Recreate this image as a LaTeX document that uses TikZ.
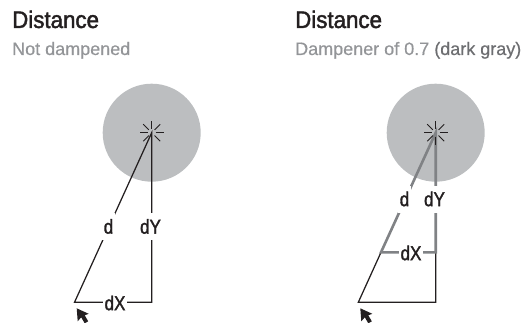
\documentclass[tikz,border=0pt]{standalone}
\usepackage{fontspec}
\setmainfont{Liberation Sans}
\newfontfamily\titlefont[FakeStretch=0.93,FakeBold=1.8]{Liberation Sans}
\newfontfamily\subfont[FakeStretch=1.0,FakeBold=0.5]{Liberation Sans}
\newfontfamily\tagfont[FakeStretch=0.85,FakeBold=1.5]{Liberation Sans}
\usetikzlibrary{positioning,calc}
\definecolor{Ink}{HTML}{231F20}
\definecolor{Muted}{HTML}{939598}
\definecolor{Damp}{HTML}{808285}
\definecolor{DarkText}{HTML}{6D6E71}
\definecolor{Zone}{HTML}{BCBEC0}
\tikzset{
 title/.style={anchor=base west, inner sep=0pt, font=\titlefont\fontsize{24}{26}\selectfont, text=Ink},
 subtitle/.style={anchor=base west, inner sep=0pt, font=\subfont\fontsize{18}{20}\selectfont, text=Muted},
 zone/.style={circle, fill=Zone, minimum size=98pt, inner sep=0pt},
 tag/.style={fill=white, inner xsep=2pt, inner ysep=0pt, minimum height=27pt, font=\tagfont\fontsize{20}{22}\selectfont, text=Ink},
 thinline/.style={draw=Ink, line width=1.25pt},
 dampline/.style={draw=Damp, line width=2.6pt},
 ray/.style={draw=Ink, line width=0.9pt},
 cursor/.style={fill=Ink}
}
\begin{document}
\begin{tikzpicture}[x=1pt,y=-1pt]
\useasboundingbox (0,0) rectangle (524,323);
% left side
\node[title] (titleA) at (12,28) {Distance};
\node[subtitle] (subA) at (12,55) {Not dampened};
\node[zone] (zoneA) at (151.7,132.7) {};
\coordinate (sunA) at (151.7,132.7);
\coordinate (mouseA) at (74.5,302.3);
\coordinate (cornerA) at (151.7,302.3);
\draw[thinline,line join=miter] (sunA) -- (mouseA) -- (cornerA) -- cycle;
\node[tag] (dA) at (108.5,226.5) {d};
\node[tag] (dYA) at (150.5,226.5) {dY};
\node[tag] (dXA) at (115,303) {dX};
\foreach \a in {0,45,...,315}
  \draw[ray] ($(sunA)+(\a:4)$) -- ($(sunA)+(\a:12)$);
\fill[cursor,shift={(76.7,308.3)}] (0,0) -- (1,13) -- (4.5,9) -- (8,15) -- (11.5,13) -- (8,7) -- (12,5.5) -- cycle;
% right side
\node[title] (titleB) at (295,28) {Distance};
\node[subtitle] (subB) at (295,55) {Dampener of 0.7 \textcolor{DarkText}{(dark gray)}};
\node[zone] (zoneB) at (435.7,132.7) {};
\coordinate (sunB) at (435.7,132.7);
\coordinate (mouseB) at (358.3,302.3);
\coordinate (cornerB) at (435.7,302.3);
\coordinate (dampB) at (381,252.3);
\coordinate (dampcornerB) at (435.7,252.3);
\draw[thinline] (dampB) -- (mouseB) -- (cornerB) -- (dampcornerB);
\draw[dampline,line join=miter] (dampB) -- (sunB) -- (dampcornerB) -- cycle;
\node[tag] (dB) at (404.5,199) {d};
\node[tag] (dYB) at (434.5,199) {dY};
\node[tag] (dXB) at (411,253) {dX};
\foreach \a in {0,45,...,315}
  \draw[ray] ($(sunB)+(\a:4)$) -- ($(sunB)+(\a:12)$);
\fill[cursor,shift={(360.3,308.3)}] (0,0) -- (1,13) -- (4.5,9) -- (8,15) -- (11.5,13) -- (8,7) -- (12,5.5) -- cycle;
\end{tikzpicture}
\end{document}
